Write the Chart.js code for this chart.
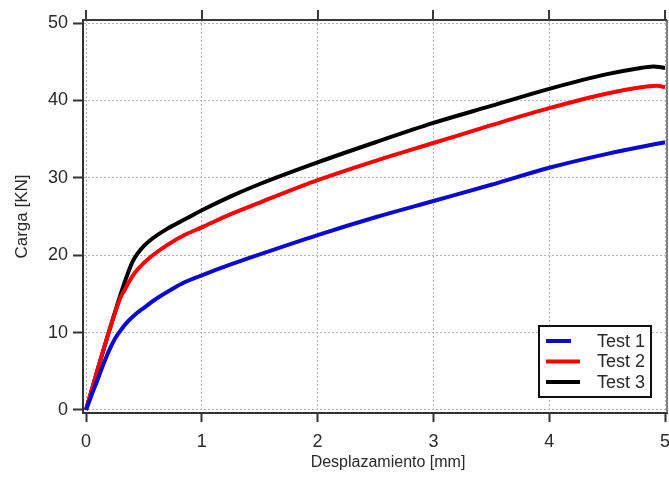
<!DOCTYPE html>
<html>
<head>
<meta charset="utf-8">
<script src="https://cdn.jsdelivr.net/npm/chart.js@4"></script>
<style>
  html, body { margin: 0; padding: 0; background: #fff; }
  #wrap { width: 669px; height: 480px; position: relative; }
</style>
</head>
<body>
<div id="wrap"><canvas id="loadChart"></canvas></div>
<script>
// values
const xTicks = [0, 1, 2, 3, 4, 5];
const yTicks = [0, 10, 20, 30, 40, 50];
const xTitle = 'Desplazamiento [mm]';
const yTitle = 'Carga [KN]';
const seriesNames = ['Test 1', 'Test 2', 'Test 3'];

const test1X = [0, 0.05, 0.1, 0.15, 0.2, 0.25, 0.3, 0.36, 0.43, 0.5, 0.6, 0.73, 0.85, 1.0, 1.25, 1.5, 2.0, 2.5, 3.0, 3.5, 4.0, 4.5, 5.0];
const test1Y = [0, 2.0, 3.9, 5.9, 7.7, 9.2, 10.3, 11.4, 12.4, 13.2, 14.3, 15.5, 16.5, 17.4, 18.8, 20.1, 22.6, 24.9, 27.0, 29.1, 31.3, 33.1, 34.6];

const test2X = [0, 0.1, 0.2, 0.3, 0.33, 0.37, 0.42, 0.5, 0.56, 0.7, 0.85, 1.0, 1.25, 1.5, 2.0, 2.5, 3.0, 3.5, 4.0, 4.5, 4.75, 4.93, 5.0];
const test2Y = [0, 5.2, 10.2, 14.6, 15.4, 16.5, 17.7, 19.0, 19.8, 21.3, 22.6, 23.6, 25.3, 26.8, 29.7, 32.2, 34.5, 36.8, 39.0, 40.9, 41.6, 41.9, 41.7];

const test3X = [0, 0.1, 0.2, 0.3, 0.36, 0.4, 0.44, 0.5, 0.56, 0.7, 0.85, 1.0, 1.25, 1.5, 2.0, 2.5, 3.0, 3.5, 4.0, 4.5, 4.75, 4.9, 5.0];
const test3Y = [0, 5.2, 10.2, 15.0, 17.6, 19.1, 20.1, 21.2, 22.0, 23.4, 24.6, 25.8, 27.6, 29.2, 32.0, 34.6, 37.1, 39.3, 41.5, 43.4, 44.1, 44.4, 44.2];

const colors = ['#0a0ad0', '#ff0000', '#000000'];
const FONT = 'Liberation Sans, Arial, sans-serif';
const TEXT = '#2a2a2a';

const toPoints = (xs, ys) => xs.map((x, i) => ({ x: x, y: ys[i] }));
const allX = [test1X, test2X, test3X];
const allY = [test1Y, test2Y, test3Y];

// top border with outward ticks, right border, x title, legend box
const framePlugin = {
    id: 'frame',
    afterDraw(chart) {
        const { ctx, chartArea: a, scales } = chart;
        ctx.save();
        ctx.strokeStyle = '#3a3a3a';
        ctx.lineWidth = 2;
        ctx.beginPath();
        ctx.moveTo(a.left - 1, a.top);
        ctx.lineTo(a.right, a.top);
        xTicks.forEach(v => {
            const px = Math.round(scales.x.getPixelForValue(v));
            ctx.moveTo(px, a.top - 10);
            ctx.lineTo(px, a.top);
        });
        ctx.stroke();
        ctx.lineWidth = 1.5;
        ctx.strokeStyle = '#555';
        ctx.beginPath();
        ctx.moveTo(a.right, a.top);
        ctx.lineTo(a.right, a.bottom);
        ctx.stroke();

        // x axis title
        ctx.fillStyle = TEXT;
        ctx.font = '16px ' + FONT;
        ctx.textAlign = 'center';
        ctx.textBaseline = 'middle';
        ctx.fillText(xTitle, (a.left + a.right) / 2 + 13, 463);

        // legend
        const bx = a.right - 128, by = a.bottom - 87, bw = 112, bh = 71;
        ctx.fillStyle = '#fff';
        ctx.fillRect(bx, by, bw, bh);
        ctx.strokeStyle = '#111';
        ctx.lineWidth = 2;
        ctx.strokeRect(bx, by, bw, bh);
        const sampleLen = [25, 34, 34];
        chart.data.datasets.forEach((ds, i) => {
            const yy = by + 15 + i * 20.5;
            ctx.strokeStyle = ds.borderColor;
            ctx.lineWidth = 4;
            ctx.beginPath();
            ctx.moveTo(bx + 7, yy);
            ctx.lineTo(bx + 7 + sampleLen[i], yy);
            ctx.stroke();
            ctx.fillStyle = TEXT;
            ctx.font = '18px ' + FONT;
            ctx.textAlign = 'right';
            ctx.textBaseline = 'middle';
            ctx.fillText(ds.label, bx + bw - 6, yy + 1);
        });
        ctx.restore();
    }
};

const ctx = document.getElementById('loadChart').getContext('2d');

const gridOpts = { color: '#b4b4b4', lineWidth: 1, tickColor: '#333', tickWidth: 2, tickBorderDash: [] };
const borderOpts = { color: '#333', width: 2, dash: [2, 2] };

new Chart(ctx, {
    type: 'scatter',
    data: {
        datasets: seriesNames.map((name, i) => ({
            label: name,
            data: toPoints(allX[i], allY[i]),
            showLine: true,
            borderColor: colors[i],
            backgroundColor: colors[i],
            borderWidth: 4,
            pointRadius: 0,
            cubicInterpolationMode: 'monotone'
        }))
    },
    options: {
        responsive: true,
        maintainAspectRatio: false,
        animation: false,
        layout: { autoPadding: false, padding: { top: 20, right: 2, left: 0, bottom: 0 } },
        plugins: { legend: { display: false }, tooltip: { enabled: false } },
        scales: {
            x: {
                type: 'linear',
                min: -0.026,
                max: 5.017,
                afterBuildTicks: s => { s.ticks = xTicks.map(v => ({ value: v })); },
                afterFit: s => { s.height = 67; s.paddingLeft = 0; s.paddingRight = 0; },
                ticks: { color: TEXT, font: { family: FONT, size: 18 }, padding: 9, maxRotation: 0 },
                grid: Object.assign({ tickLength: 9 }, gridOpts),
                border: borderOpts
            },
            y: {
                type: 'linear',
                min: -0.4,
                max: 50.4,
                afterBuildTicks: s => { s.ticks = yTicks.map(v => ({ value: v })); },
                afterFit: s => { s.width = 83; s.paddingTop = 0; s.paddingBottom = 0; },
                ticks: { color: TEXT, font: { family: FONT, size: 18 }, padding: 5 },
                grid: Object.assign({ tickLength: 10 }, gridOpts),
                border: borderOpts,
                title: { display: true, text: yTitle, color: TEXT, font: { family: FONT, size: 17 }, padding: { top: 12, bottom: 0 } }
            }
        }
    },
    plugins: [framePlugin]
});
</script>
</body>
</html>
